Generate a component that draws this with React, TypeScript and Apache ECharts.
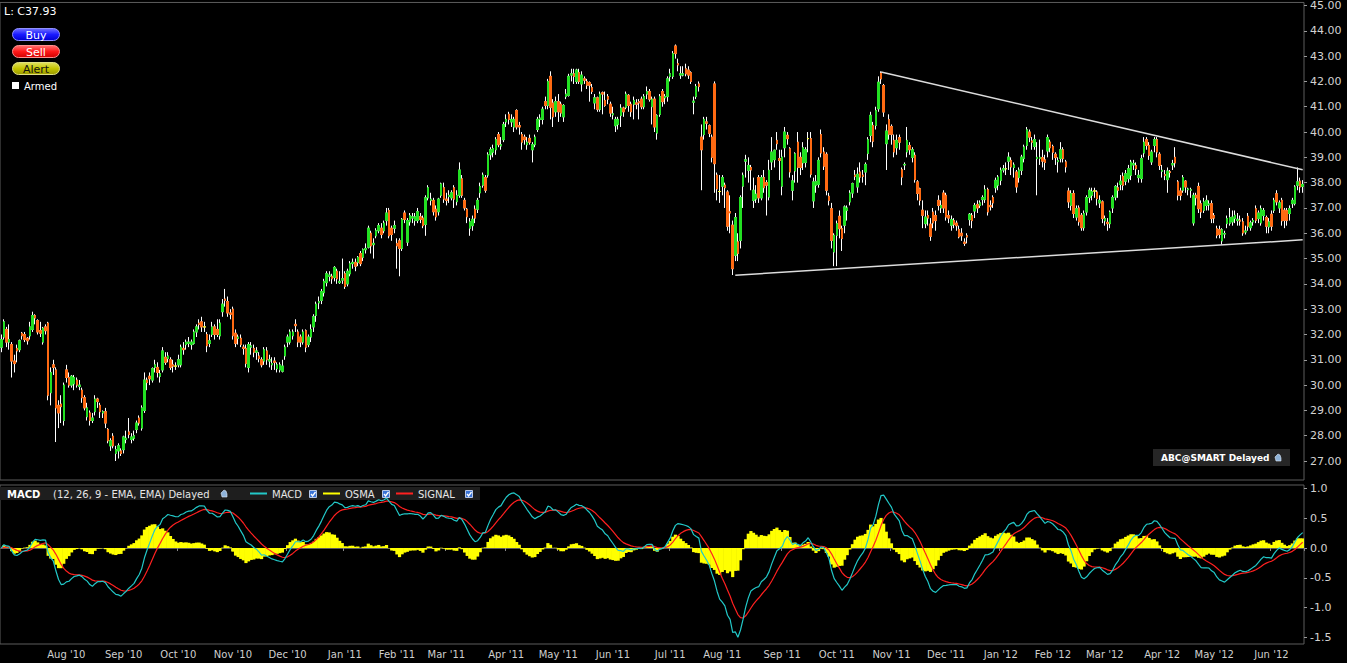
import React, { useEffect, useRef } from "react";
import * as echarts from "echarts";

// ---------- categories (trading days per month) ----------
const monthNames = ["Jun '10","Jul '10","Aug '10","Sep '10","Oct '10","Nov '10","Dec '10","Jan '11","Feb '11","Mar '11","Apr '11","May '11","Jun '11","Jul '11","Aug '11","Sep '11","Oct '11","Nov '11","Dec '11","Jan '12","Feb '12","Mar '12","Apr '12","May '12","Jun '12"];
const tradingDays = [4,21,22,21,21,21,22,20,19,23,20,21,22,20,23,21,21,21,21,20,20,22,20,22,13];

// ---------- daily candles: [open, close, low, high] ----------
const candles2010 = [
[31.5,31.8,31.3,32.0],[31.9,32.5,31.8,32.6],[32.2,31.7,31.5,32.3],[31.7,31.8,31.4,32.4],
[31.6,30.95,30.3,31.7],[30.95,30.85,30.5,31.2],[31.45,31.35,30.9,31.6],[31.4,31.75,31.3,31.8],[32.05,31.95,31.8,32.1],
[32.0,31.8,31.7,32.1],[31.85,31.75,31.6,31.9],[31.95,32.3,31.8,32.5],[32.2,32.75,32.1,32.9],[32.75,32.65,32.4,32.8],
[32.55,32.1,32.0,32.6],[32.15,32.05,31.9,32.5],[31.7,32.25,31.6,32.3],[32.3,32.15,32.0,32.4],[32.45,29.6,29.4,32.5],
[29.7,30.5,29.2,30.7],[30.8,30.7,30.4,31.0],[30.6,29.1,27.75,30.7],[29.2,28.9,28.3,29.4],[29.25,29.15,28.5,29.6],
[28.6,30.0,28.4,30.1],
[30.6,30.3,30.1,30.8],[30.3,30.0,29.9,30.5],[30.0,30.35,29.9,30.4],[30.05,30.3,29.8,30.4],[30.2,30.0,29.9,30.3],
[29.95,30.0,29.8,30.2],[29.8,29.5,29.3,29.9],[29.5,29.1,29.0,29.6],[28.75,29.1,28.6,29.3],[28.9,28.6,28.4,29.0],
[28.6,28.7,28.5,28.9],[28.95,29.45,28.8,29.6],[29.45,29.35,29.1,29.5],[29.2,28.95,28.7,29.3],[28.9,28.95,28.7,29.0],
[28.95,28.5,28.3,29.1],[28.25,27.8,27.7,28.3],[27.6,27.8,27.4,27.9],[27.98,27.6,27.5,28.1],[27.3,27.45,27.0,27.6],
[27.4,27.6,27.1,27.7],[27.4,27.3,27.2,27.5],
[27.45,27.95,27.3,28.0],[27.85,27.9,27.7,28.2],[28.15,28.05,27.9,28.7],[27.85,27.95,27.7,28.1],[27.9,28.0,27.8,28.2],
[28.25,28.5,28.1,28.6],[28.7,28.5,28.4,28.8],[28.3,29.1,28.2,29.2],[29.0,30.2,28.9,30.5],[30.2,30.1,29.8,30.3],
[30.35,30.25,30.0,30.5],[30.2,30.65,30.1,30.7],[30.7,30.8,30.5,31.0],[30.7,30.5,30.3,30.9],[30.35,30.45,30.1,30.6],
[30.6,31.35,30.5,31.5],[31.1,30.9,30.8,31.3],[31.05,31.15,30.9,31.3],[31.0,30.7,30.6,31.1],[30.8,30.75,30.5,31.0],
[30.75,30.75,30.6,30.9],
[30.8,31.0,30.7,31.2],[30.8,31.5,30.7,31.6],[31.45,31.4,31.2,31.7],[31.6,31.7,31.4,31.8],[31.65,31.7,31.5,31.9],
[31.6,31.7,31.4,31.8],[31.65,32.1,31.6,32.2],[32.1,32.3,31.9,32.4],[32.45,32.4,32.2,32.6],[32.5,32.3,32.1,32.7],
[32.3,32.3,32.1,32.5],[32.0,31.55,31.3,32.1],[31.65,31.75,31.5,32.0],[32.0,32.3,31.9,32.5],[32.3,32.0,31.8,32.4],
[32.2,32.0,31.9,32.6],[31.95,32.45,31.8,32.6],[32.9,33.2,32.7,33.4],[33.4,33.35,33.1,33.8],[33.3,32.85,32.7,33.5],
[32.85,32.8,32.6,33.0],
[33.0,31.95,31.8,33.1],[32.05,31.65,31.5,32.2],[31.85,31.9,31.6,32.0],[31.85,31.6,31.5,32.0],[31.5,31.45,31.2,31.6],
[31.45,30.85,30.7,31.6],[30.7,31.6,30.5,31.7],[31.5,31.55,31.2,31.7],[31.45,31.3,31.1,31.6],[31.3,31.35,31.0,31.5],
[31.15,31.05,30.9,31.3],[31.0,30.8,30.7,31.1],[30.95,31.4,30.8,31.5],[31.35,31.0,30.8,31.5],[30.95,31.0,30.7,31.2],
[30.8,30.85,30.6,31.1],[30.95,30.9,30.6,31.1],[30.65,30.8,30.5,30.9],[30.6,30.8,30.5,30.9],[30.55,30.75,30.5,31.0],
[31.15,31.5,31.0,31.6],
[31.7,31.9,31.5,32.0],[31.7,32.1,31.6,32.2],[31.95,32.1,31.8,32.2],[32.4,32.35,32.1,32.6],[32.1,31.7,31.5,32.2],
[31.9,31.7,31.5,32.0],[31.7,32.1,31.6,32.2],[32.15,31.5,31.3,32.2],[31.6,31.9,31.5,32.0],[31.9,32.2,31.7,32.4],
[32.3,32.7,32.1,32.8],[32.75,33.2,32.5,33.3],[33.25,33.3,33.0,33.5],[33.35,33.7,33.2,33.8],[33.65,34.1,33.5,34.2],
[34.05,34.4,33.9,34.5],[34.3,34.35,34.1,34.5],[34.3,34.2,34.0,34.4],[34.25,34.65,34.1,34.7],[34.5,34.2,34.0,34.6],
[34.05,34.1,34.0,34.5],[34.15,34.2,34.0,35.0],
];

const candles2011H1 = [
[34.4,33.9,33.8,34.5],[34.0,34.5,33.9,34.6],[34.4,34.8,34.3,34.9],[34.8,34.85,34.6,35.0],[34.85,34.7,34.5,35.0],
[34.85,35.05,34.7,35.1],[35.2,34.8,34.7,35.3],[35.05,35.35,34.9,35.4],[35.35,35.4,35.2,35.6],[35.45,36.2,35.4,36.3],
[36.0,35.5,35.2,36.1],[35.55,35.6,35.0,35.8],[35.9,36.1,35.8,36.2],[36.1,36.3,36.0,36.4],[36.2,35.95,35.8,36.4],
[36.1,36.4,36.0,36.5],[36.5,36.8,36.3,37.0],[36.9,35.9,35.8,37.0],[36.2,35.95,35.7,36.3],[36.2,36.3,36.0,36.5],
[35.6,35.5,34.6,35.8],[35.7,35.4,34.3,35.8],[35.4,36.55,35.3,36.6],[36.8,36.55,36.4,36.9],[35.65,36.5,35.5,36.6],
[36.45,36.7,36.3,36.8],[36.6,36.65,36.4,36.8],[36.5,36.65,36.3,36.8],[36.5,36.85,36.4,37.0],[36.65,36.55,36.4,36.8],
[36.6,36.3,36.2,36.7],[36.35,37.4,35.9,37.5],[37.4,37.8,37.3,37.9],[37.3,37.35,37.1,37.6],[37.3,36.85,36.7,37.4],
[36.95,36.65,36.5,37.1],[36.85,37.35,36.7,37.4],[37.5,37.95,37.4,38.0],[37.8,37.35,37.2,38.0],
[37.35,37.3,37.1,37.6],[37.45,37.5,37.2,37.7],[37.4,37.6,37.3,37.7],[37.8,37.35,37.0,37.9],[37.25,37.5,37.1,37.7],
[37.5,38.5,37.4,38.8],[38.15,37.5,37.4,38.3],[37.3,37.0,36.9,37.4],[36.95,36.65,36.4,37.0],[36.2,36.45,35.9,36.6],
[36.3,36.55,36.1,36.7],[36.95,36.6,36.4,37.1],[36.95,37.3,36.8,37.4],[37.6,37.85,37.4,38.0],[37.9,38.3,37.8,38.4],
[38.2,37.7,37.6,38.3],[38.3,39.1,38.2,39.2],[39.1,39.3,38.9,39.4],[39.2,39.35,39.0,39.5],[39.3,39.7,39.1,39.8],
[39.9,39.5,39.4,40.0],[39.45,39.5,39.3,39.8],[39.7,40.3,39.6,40.4],
[40.4,40.5,40.2,40.7],[40.7,40.5,40.3,40.8],[40.4,40.5,40.2,40.7],[40.2,40.5,40.0,40.6],[40.85,40.2,40.1,40.9],
[40.25,40.2,39.9,40.4],[39.9,39.6,39.3,40.0],[39.8,39.7,39.5,39.9],[39.5,39.6,39.3,39.8],[39.75,39.6,39.5,39.9],
[39.3,39.5,38.8,39.6],[39.5,39.8,39.4,39.9],[40.1,40.5,40.0,40.6],[40.5,40.55,40.2,40.7],[40.5,40.9,40.3,41.0],
[41.2,41.05,40.9,41.4],[41.05,42.0,40.9,42.1],[42.2,40.98,40.5,42.4],[41.15,40.6,40.2,41.3],[40.8,41.2,40.6,41.4],
[41.2,40.8,40.4,41.5],[41.1,40.75,40.6,41.2],[40.6,41.05,40.4,41.1],[41.4,41.5,41.3,41.7],[41.45,42.2,41.4,42.3],
[42.25,42.3,42.0,42.5],[42.3,42.2,41.9,42.5],[42.0,42.45,41.9,42.5],[42.35,42.0,41.9,42.5],[41.9,42.25,41.6,42.4],
[42.1,42.05,41.9,42.2],[42.0,41.85,41.7,42.1],[41.95,41.85,41.2,42.0],[41.75,41.6,41.5,41.9],[41.15,41.35,40.9,41.5],
[41.35,40.9,40.8,41.4],[40.9,41.5,40.8,41.6],[41.55,41.5,40.7,41.6],[41.25,41.05,41.0,41.6],[41.4,41.3,41.1,41.5],
[41.1,40.75,40.6,41.2],
[40.68,40.72,40.5,41.0],[40.25,40.5,40.0,40.6],[40.3,40.5,40.1,40.6],[40.65,40.95,40.2,41.1],[40.95,40.8,40.6,41.0],
[40.98,41.5,40.9,41.6],[41.45,41.05,40.8,41.5],[41.1,40.8,40.6,41.2],[41.1,41.25,40.5,41.4],[41.15,41.1,40.9,41.3],
[41.2,41.15,40.5,41.3],[41.3,41.0,40.9,41.4],[41.0,41.4,40.9,41.5],[41.5,41.6,41.3,41.8],[41.6,41.3,41.2,41.7],
[41.0,41.3,40.3,41.4],[41.3,40.2,40.0,41.4],[39.96,40.65,39.7,40.7],[40.7,41.4,40.6,41.5],[41.6,41.2,41.0,41.7],
[41.35,41.4,41.1,41.5],[41.4,42.1,41.2,42.2],
];

const candles2011H2 = [
[42.2,42.3,42.0,42.5],[42.2,43.1,42.1,43.2],[43.4,43.1,42.9,43.46],[42.7,42.65,42.4,42.9],[42.25,42.3,42.1,42.6],
[42.25,42.3,42.2,42.6],[42.5,42.3,42.2,42.7],[42.45,42.25,42.1,42.6],[42.35,42.0,41.9,42.4],[41.18,41.22,40.7,41.4],
[41.4,41.8,41.3,41.9],[41.9,41.8,41.6,42.0],[39.8,39.3,37.7,40.3],[39.9,40.5,39.7,40.6],[40.4,40.35,40.1,40.6],
[40.25,39.95,39.8,40.3],[39.8,39.0,38.8,39.9],[41.9,38.75,37.6,42.0],[38.3,37.75,37.3,38.4],[37.65,37.65,37.2,38.3],
[37.86,38.2,37.5,38.3],[37.9,37.8,37.0,38.0],[37.63,36.28,36.1,37.7],[36.85,36.8,36.0,37.5],[36.32,34.6,34.35,36.5],
[35.13,36.62,34.9,36.8],[35.66,35.2,34.9,36.0],[35.72,37.41,35.4,37.5],[37.86,38.29,37.0,38.4],[38.85,38.9,38.2,39.1],
[38.49,38.68,38.0,39.0],[38.6,38.5,37.7,38.7],[37.3,37.7,37.0,38.2],[37.35,37.55,37.2,37.9],[38.2,37.4,37.2,38.3],
[37.4,38.2,37.3,38.3],[38.2,37.8,37.6,38.5],[38.0,37.9,36.7,38.1],[37.43,38.49,37.3,38.9],[38.82,39.21,38.5,39.8],
[38.91,39.28,38.6,39.3],[39.67,39.54,39.3,40.0],[38.95,38.88,38.1,39.3],
[37.86,39.01,37.5,39.3],[39.38,40.0,39.0,40.2],[39.87,39.74,39.5,40.0],[39.34,38.42,38.2,39.4],[37.7,38.07,37.3,38.3],
[38.46,39.14,38.0,39.2],[39.6,38.6,38.0,40.0],[39.0,38.6,38.3,39.2],[38.78,39.38,38.5,39.6],[38.8,39.3,38.6,39.4],
[39.74,39.74,39.2,40.0],[39.74,38.33,38.2,40.0],[37.28,38.03,37.0,38.2],[37.9,38.05,37.6,38.3],[37.93,38.88,37.8,39.0],
[39.9,39.17,39.0,40.1],[39.21,38.65,38.5,39.4],[39.12,37.7,37.5,39.2],[37.46,37.3,37.1,37.6],[36.97,35.72,35.4,37.2],
[35.26,35.92,34.7,36.0],
[35.92,36.38,34.7,36.5],[36.67,36.18,35.8,36.9],[36.18,35.79,35.3,36.3],[36.32,37.04,36.0,37.1],[36.9,37.0,36.5,37.1],
[37.24,37.59,37.1,37.7],[37.59,37.96,37.4,38.0],[38.3,38.25,38.1,38.5],[37.83,38.33,37.6,38.6],[38.42,38.22,38.0,38.8],
[38.3,38.25,38.0,38.5],[38.42,38.72,37.9,38.8],[39.15,39.7,38.9,39.8],[39.87,40.66,39.6,40.8],[40.26,39.64,39.4,40.4],
[40.26,40.85,40.1,41.0],[40.92,41.97,40.8,42.2],[42.33,42.1,41.9,42.4],[41.84,40.79,40.6,41.9],[39.54,40.04,38.5,40.3],
[40.49,39.91,39.7,40.7],
[40.22,39.91,39.5,40.3],[39.67,39.21,39.0,39.9],[39.38,39.67,39.1,39.9],[39.78,39.6,39.3,39.9],[38.51,38.22,37.9,38.6],
[38.7,38.72,38.5,38.8],[39.21,39.67,39.0,40.2],[39.47,39.3,39.1,39.6],[39.0,39.3,38.8,39.4],[39.08,38.12,38.0,39.2],
[38.03,37.57,37.3,38.1],[37.76,37.3,37.1,37.8],[36.91,36.71,36.2,37.3],[36.38,36.64,36.2,36.9],[36.7,36.6,36.3,36.9],
[36.36,35.88,35.7,36.6],[36.84,36.41,36.2,37.0],[36.7,36.5,36.1,36.9],[37.3,37.1,36.9,37.5],[37.0,37.1,36.8,37.3],
[37.59,37.0,36.8,37.7],
[37.5,36.64,36.5,37.6],[36.7,36.6,36.4,36.9],[36.32,36.54,36.1,36.7],[36.5,36.35,36.2,36.6],[36.4,36.3,36.1,36.5],
[36.15,35.86,35.8,36.3],[36.0,35.9,35.7,36.2],[35.65,35.6,35.5,35.8],[35.9,35.85,35.6,36.0],[36.54,36.75,36.3,36.8],
[36.7,36.5,36.2,36.8],[36.88,37.1,36.6,37.2],[37.14,37.0,36.8,37.3],[37.1,37.2,37.0,37.3],[37.33,37.41,37.1,37.5],
[37.33,37.72,37.2,37.9],[37.72,36.84,36.7,37.8],[37.1,37.05,36.9,37.3],[37.41,37.2,37.0,37.5],[37.8,38.09,37.6,38.2],
[37.9,38.22,37.7,38.3],
];

const candles2012 = [
[38.09,38.49,37.9,38.6],[38.5,38.55,38.4,38.7],[38.55,38.55,38.3,38.8],[38.85,39.01,38.5,39.2],[38.88,38.62,38.3,39.0],
[38.6,38.7,38.2,38.8],[38.42,37.83,37.6,38.5],[38.2,38.5,38.0,38.6],[38.49,39.01,38.3,39.1],[38.95,39.41,38.8,39.5],
[39.47,40.09,39.3,40.2],[40.0,39.8,39.6,40.1],[39.65,39.6,39.3,39.8],[39.43,39.7,39.3,39.9],[38.95,39.0,37.5,39.6],
[38.95,39.0,38.7,39.7],[38.99,38.85,38.6,39.3],[38.9,38.8,38.5,39.1],[39.25,39.78,39.0,39.9],[39.6,39.38,39.2,39.7],
[39.43,39.2,38.9,39.5],[39.12,38.99,38.7,39.2],[38.83,38.87,38.4,39.0],[38.95,39.3,38.8,39.6],[39.3,38.95,38.8,39.4],
[38.82,38.62,38.4,38.9],[37.67,37.24,37.0,37.8],[37.1,37.57,36.9,37.7],[37.57,36.78,36.6,37.7],[36.64,36.97,36.5,37.1],
[37.0,36.45,36.3,37.1],[36.71,36.22,36.1,36.8],[36.22,36.78,36.1,36.9],[36.84,37.41,36.7,37.5],[37.41,37.7,37.2,37.8],
[37.5,37.65,37.3,37.8],[37.67,37.67,37.4,37.8],[37.63,37.37,37.1,37.7],[37.2,37.3,37.0,37.5],[37.24,36.58,36.4,37.3],
[36.49,36.58,36.3,36.7],[36.43,36.38,36.1,36.6],[36.38,36.84,36.2,36.9],[37.0,37.41,36.8,37.5],[37.43,37.85,37.3,37.9],
[37.8,37.7,37.4,38.0],[37.93,38.06,37.7,38.3],[38.25,37.9,37.7,38.4],[38.06,38.35,37.9,38.5],[38.16,38.55,38.0,38.7],
[38.29,38.81,38.1,38.9],[38.7,38.75,38.5,38.9],[38.68,38.55,38.3,38.8],[38.2,38.29,38.0,38.5],[38.16,38.95,38.0,39.1],
[39.17,39.6,39.0,39.8],[39.7,39.47,39.3,39.8],[39.47,39.08,38.9,39.6],[38.82,39.21,38.7,39.3],[39.47,39.7,39.2,39.8],
[39.7,39.21,39.0,39.8],[39.12,38.68,38.5,39.2],
[38.45,38.49,38.2,38.7],[38.32,38.28,38.1,38.5],[38.12,38.46,37.6,38.6],[38.43,38.4,38.2,38.5],[38.7,38.75,38.5,38.9],
[39.0,38.78,38.6,39.4],[38.03,37.5,37.3,38.1],[37.67,37.5,37.3,37.8],[37.7,38.2,37.6,38.3],[38.06,37.83,37.6,38.1],
[37.72,37.75,37.5,37.8],[37.7,37.72,37.4,37.8],[36.41,37.5,36.3,37.6],[37.5,37.4,37.1,37.6],[37.85,36.97,36.8,38.0],
[37.17,36.84,36.6,37.3],[36.91,37.24,36.8,37.4],[37.1,37.3,36.9,37.5],[37.12,37.16,36.9,37.3],[37.17,36.58,36.4,37.3],
[36.7,36.6,36.4,36.8],[36.18,35.92,35.8,36.3],[36.14,35.95,35.8,36.3],[35.7,36.14,35.55,36.2],[35.97,35.99,35.8,36.1],
[36.38,36.58,36.2,36.7],[36.4,36.62,36.3,37.0],[36.45,36.64,36.3,36.9],[36.58,36.71,36.4,36.9],[36.5,36.55,36.3,36.8],
[36.52,36.48,36.3,36.7],[36.45,36.01,35.9,36.6],[36.05,36.09,35.95,36.3],[36.67,36.28,36.1,36.8],[36.22,36.41,36.1,36.5],
[36.45,36.5,36.3,36.6],[36.97,36.51,36.4,37.1],[36.58,36.8,36.4,36.9],[36.41,36.97,36.3,37.1],[36.7,36.9,36.5,37.0],
[36.62,36.28,36.0,36.7],[36.25,36.45,36.0,36.6],
[36.75,36.28,36.1,36.9],[36.91,37.3,36.8,37.4],[37.56,37.24,37.1,37.7],[37.0,37.2,36.8,37.3],[37.3,36.49,36.3,37.4],
[36.91,36.51,36.2,37.0],[36.9,36.5,36.3,37.0],[36.78,36.97,36.5,37.1],[37.17,37.3,37.0,37.4],[37.17,37.83,37.1,37.9],
[37.9,38.03,37.7,38.6],[38.06,37.83,37.6,38.2],[37.85,37.93,37.6,38.1],
];

// ---------- trend lines: [[dayIndex, price], [dayIndex, price]] ----------
const trendLines = [
  [[338, 42.37], [500, 38.51]],
  [[282, 34.34], [500, 35.74]],
];

// ---------- axis tick labels ----------
const priceTicks = [27,28,29,30,31,32,33,34,35,36,37,38,39,40,41,42,43,44,45];
const macdTicks = [1, 0.5, 0, -0.5, -1, -1.5];
const macdParams = [12, 26, 9];

const FONT = '"DejaVu Sans", Verdana, sans-serif';

function ema(values: number[], period: number): number[] {
  const k = 2 / (period + 1);
  const out: number[] = [];
  let prev = values[0];
  values.forEach((v, i) => {
    prev = i === 0 ? v : v * k + prev * (1 - k);
    out.push(prev);
  });
  return out;
}

function buildOption() {
  const candles = [...candles2010, ...candles2011H1, ...candles2011H2, ...candles2012];
  const categories: string[] = [];
  const monthStart = new Set<number>();
  monthNames.forEach((m, mi) => {
    for (let d = 1; d <= tradingDays[mi]; d++) {
      if (d === 1 && mi > 0) monthStart.add(categories.length);
      categories.push(`${m}#${d}`);
    }
  });
  const bodies = candles.map(([o, c]) => [o, c, Math.min(o, c), Math.max(o, c)]);
  const closes = candles.map((c) => c[1]);
  const e1 = ema(closes, macdParams[0]);
  const e2 = ema(closes, macdParams[1]);
  const macd = e1.map((v, i) => v - e2[i]);
  const signal = ema(macd, macdParams[2]);
  const osma = macd.map((v, i) => v - signal[i]);

  const isStart = (idx: number) => monthStart.has(idx);

  const grad = (a: string, b: string, c: string) =>
    new echarts.graphic.LinearGradient(0, 0, 0, 1, [
      { offset: 0, color: a },
      { offset: 0.5, color: b },
      { offset: 1, color: c },
    ]);
  const button = (y: number, label: string, fill: any, stroke: string, txt: string) => [
    { type: "rect", silent: true, shape: { x: 12.5, y: y + 0.5, width: 47, height: 12, r: 6 }, style: { fill, stroke, lineWidth: 1 } },
    { type: "text", silent: true, x: 36, y: y + 7, style: { text: label, fill: txt, font: `11px ${FONT}`, align: "center", verticalAlign: "middle" } },
  ];
  const checkbox = (x: number, y: number) => [
    { type: "rect", silent: true, shape: { x: x + 0.5, y: y + 0.5, width: 7, height: 7 }, style: { fill: "#3b74d6", stroke: "#b8c8e8", lineWidth: 1 } },
    { type: "polyline", silent: true, shape: { points: [[x + 2, y + 4], [x + 3.6, y + 6], [x + 6.5, y + 2]] }, style: { stroke: "#ffffff", lineWidth: 1.3, fill: null } },
  ];
  const legendLine = (x: number, color: string) => ({
    type: "line", silent: true, shape: { x1: x, y1: 493.5, x2: x + 17, y2: 493.5 }, style: { stroke: color, lineWidth: 2 },
  });
  const legendText = (x: number, text: string, bold = false, color = "#e6e6e6") => ({
    type: "text", silent: true, x, y: 494, style: { text, fill: color, font: `${bold ? "bold " : ""}10px ${FONT}`, verticalAlign: "middle" },
  });
  const handIcon = (x: number, y: number) => ({
    type: "polygon", silent: true,
    shape: { points: [[x, y + 3], [x + 3, y], [x + 5, y + 1], [x + 6, y + 4], [x + 6, y + 7], [x + 1, y + 7]] },
    style: { fill: "#8fb3d9", stroke: "#dde8f5", lineWidth: 0.6 },
  });

  const graphics: any[] = [
    { type: "text", silent: true, x: 4, y: 11, style: { text: "L: C37.93", fill: "#ffffff", font: `11px ${FONT}`, verticalAlign: "middle" } },
    ...button(28, "Buy", grad("#7070ff", "#1a1aff", "#0000d0"), "#9090ff", "#ffffff"),
    ...button(45, "Sell", grad("#ff7070", "#ff1a1a", "#d00000"), "#ff9090", "#ffffff"),
    ...button(62, "Alert", grad("#e0e060", "#c4c400", "#9a9a00"), "#e0e080", "#111111"),
    { type: "rect", silent: true, shape: { x: 12, y: 82, width: 7, height: 7 }, style: { fill: "#ffffff" } },
    { type: "text", silent: true, x: 24, y: 86, style: { text: "Armed", fill: "#ffffff", font: `10px ${FONT}`, verticalAlign: "middle" } },
    // data source box
    { type: "rect", silent: true, shape: { x: 1153, y: 449, width: 137, height: 17 }, style: { fill: "#262626" } },
    { type: "text", silent: true, x: 1161, y: 457.5, style: { text: "ABC@SMART Delayed", fill: "#ffffff", font: `bold 9px ${FONT}`, verticalAlign: "middle" } },
    handIcon(1275, 454),
    // MACD legend bar
    { type: "rect", silent: true, shape: { x: 0, y: 487, width: 480, height: 13 }, style: { fill: "#1e1e1e" } },
    legendText(7, "MACD", true, "#ffffff"),
    legendText(53, "(12, 26, 9 - EMA, EMA) Delayed"),
    handIcon(221, 490),
    legendLine(250, "#22c8c8"),
    legendText(272, "MACD"),
    ...checkbox(309, 490),
    legendLine(323, "#ffff00"),
    legendText(345, "OSMA"),
    ...checkbox(382, 490),
    legendLine(396, "#ff2020"),
    legendText(418, "SIGNAL"),
    ...checkbox(465, 490),
  ];

  return {
    animation: false,
    backgroundColor: "#000000",
    grid: [
      { left: 0, right: 43, top: 2, height: 478, show: true, borderColor: "#5c5c5c", borderWidth: 1, backgroundColor: "transparent" },
      { left: 0, right: 43, top: 485, height: 159, show: true, borderColor: "#5c5c5c", borderWidth: 1, backgroundColor: "transparent" },
    ],
    xAxis: [
      {
        type: "category", gridIndex: 0, data: categories, boundaryGap: true,
        axisLine: { show: false }, axisTick: { show: false }, axisLabel: { show: false }, splitLine: { show: false },
      },
      {
        type: "category", gridIndex: 1, data: categories, boundaryGap: true,
        axisLine: { show: true, lineStyle: { color: "#5c5c5c" } },
        axisTick: { show: true, interval: (i: number) => isStart(i), length: 3, lineStyle: { color: "#8a8a8a" } },
        axisLabel: {
          show: true, interval: (i: number) => isStart(i), margin: 5, color: "#cfcfcf", fontSize: 10, fontFamily: FONT,
          formatter: (v: string) => (v.startsWith("Jul '10") ? "" : v.split("#")[0]),
        },
        splitLine: { show: false },
      },
    ],
    yAxis: [
      {
        type: "value", gridIndex: 0, position: "right", min: 26.25, max: 45.12,
        axisLine: { show: false },
        axisTick: { show: true, customValues: priceTicks, length: 3, lineStyle: { color: "#9a9a9a" } },
        axisLabel: { show: true, customValues: priceTicks, margin: 6, color: "#d2d2d2", fontSize: 11, fontFamily: FONT, formatter: (v: number) => v.toFixed(2) },
        splitLine: { show: false },
      },
      {
        type: "value", gridIndex: 1, position: "right", min: -1.613, max: 1.059,
        axisLine: { show: false },
        axisTick: { show: true, customValues: macdTicks, length: 3, lineStyle: { color: "#9a9a9a" } },
        axisLabel: { show: true, customValues: macdTicks, margin: 6, color: "#d2d2d2", fontSize: 11, fontFamily: FONT, formatter: (v: number) => v.toFixed(1) },
        splitLine: { show: false },
      },
    ],
    series: [
      {
        type: "candlestick", name: "wicks", xAxisIndex: 0, yAxisIndex: 0, data: candles, barWidth: 2, silent: true,
        itemStyle: { color: "#ffffff", color0: "#ffffff", borderColor: "#ffffff", borderColor0: "#ffffff", borderColorDoji: "#ffffff", borderWidth: 1 },
      },
      {
        type: "candlestick", name: "bodies", xAxisIndex: 0, yAxisIndex: 0, data: bodies, barWidth: 2, silent: true,
        itemStyle: { color: "#22e022", color0: "#ff6a12", borderColor: "#22e022", borderColor0: "#ff6a12", borderColorDoji: "#ffff00", borderWidth: 1 },
        markLine: {
          silent: true, symbol: ["none", "none"], label: { show: false },
          lineStyle: { color: "#dcdcdc", width: 1.5, type: "solid" },
          emphasis: { disabled: true },
          data: trendLines.map(([a, b]) => [{ coord: a }, { coord: b }]),
        },
      },
      {
        type: "bar", name: "OSMA", xAxisIndex: 1, yAxisIndex: 1, data: osma, barWidth: 3.2, silent: true,
        itemStyle: { color: "#ffff00" },
      },
      {
        type: "line", name: "SIGNAL", xAxisIndex: 1, yAxisIndex: 1, data: signal, symbol: "none", showSymbol: false, silent: true,
        lineStyle: { color: "#ff2020", width: 1.2 },
      },
      {
        type: "line", name: "MACD", xAxisIndex: 1, yAxisIndex: 1, data: macd, symbol: "none", showSymbol: false, silent: true,
        lineStyle: { color: "#22c8c8", width: 1.2 },
      },
    ],
    graphic: { elements: graphics },
  };
}

export default function App() {
  const ref = useRef<HTMLDivElement>(null);
  useEffect(() => {
    document.body.style.margin = "0";
    document.body.style.background = "#000";
    if (!ref.current) return;
    const chart = echarts.init(ref.current, undefined, { renderer: "svg" });
    chart.setOption(buildOption() as any);
    return () => chart.dispose();
  }, []);
  return (
    <div style={{ position: "fixed", left: 0, top: 0, width: 1347, height: 663, background: "#000" }}>
      <div ref={ref} style={{ width: 1347, height: 663 }} />
    </div>
  );
}
